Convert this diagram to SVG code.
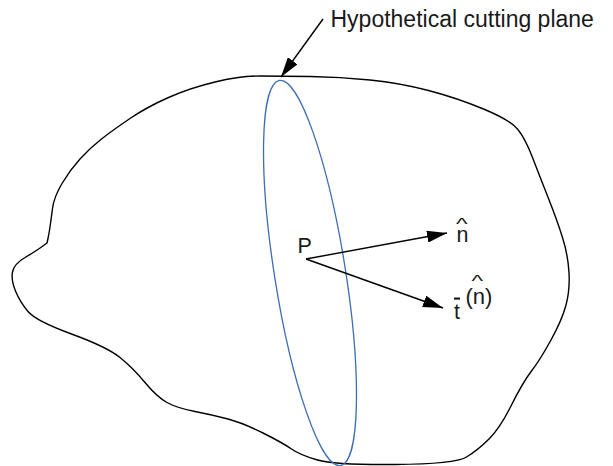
<svg xmlns="http://www.w3.org/2000/svg" width="613" height="466" viewBox="0 0 613 466">
<style>
.lbl{font-family:"Liberation Sans",Arial,sans-serif;fill:#1a1a1a}
.body{fill:none;stroke:#000;stroke-width:1.4;stroke-linejoin:round}
.plane{fill:none;stroke:#3d6db5;stroke-width:1.3}
.arr{fill:none;stroke:#000;stroke-width:1.4}
</style>
<defs>
<marker id="ah" markerUnits="userSpaceOnUse" markerWidth="20" markerHeight="12" refX="20" refY="6" orient="auto">
<path d="M0,0 L20,6 L0,12 z" fill="#000"/>
</marker>
</defs>
<g id="body">
<path class="body" d="M260.5,76 Q281,76 310.5,76.5 Q340,77 370,80 Q400,83 428.5,90.5 Q457,98 483.5,109 Q510,120 517.5,129 Q525,138 532.5,157.5 Q540,177 548.5,198.5 Q557,220 562.5,237.5 Q568,255 569,272.5 Q570,290 566,305 Q562,320 551,340 Q540,360 531.5,371 Q523,382 511.5,405 Q500,428 489,439 Q478,450 466.5,457 Q455,464 395,464.5 Q335,465 317.5,460 Q300,455 291.5,449 Q283,443 263,433 Q243,423 228,419 Q213,415 195,411.5 Q177,408 167,402.5 Q157,397 145,382.5 Q133,368 120,357.5 Q107,347 71.5,334 Q36,321 28,311.5 Q20,302 15.5,291 Q11,280 12.5,272 Q14,264 25,257.5 Q36,251 41.5,247 L47,243 L48,238.5 Q49,234 50,227 Q51,220 52.5,208.5 Q54,197 62,183.5 Q70,170 80,159 Q90,148 101.5,139 Q113,130 130,118.5 Q147,107 168.5,97.5 Q190,88 215,82 Q240,76 260.5,76 Z"/>
</g>
<g id="cutting-plane">
<ellipse class="plane" cx="0" cy="0" rx="195" ry="35.5" transform="translate(310,273) rotate(81)"/>
</g>
<g id="connectors">
<line class="arr" x1="323" y1="19" x2="281" y2="77" marker-end="url(#ah)"/>
<line class="arr" x1="306" y1="259" x2="447" y2="233" marker-end="url(#ah)"/>
<line class="arr" x1="306" y1="259" x2="443" y2="308" marker-end="url(#ah)"/>
</g>
<g id="label-plane">
<text class="lbl" x="330.5" y="27" font-size="23">Hypothetical cutting plane</text>
</g>
<g id="point-P">
<text class="lbl" x="297.5" y="252.5" font-size="21.5">P</text>
</g>
<g id="label-n">
<text class="lbl" x="456.5" y="241.5" font-size="21.5">n</text>
<text class="lbl" font-size="17" transform="translate(456,229.5) scale(1.45,1)">^</text>
</g>
<g id="label-t">
<text class="lbl" x="454" y="318.5" font-size="21.5" text-decoration="overline">t</text>
<text class="lbl" x="465.5" y="303.5" font-size="22">(n)</text>
<text class="lbl" font-size="17" transform="translate(471.5,286.5) scale(1.45,1)">^</text>
</g>
</svg>
